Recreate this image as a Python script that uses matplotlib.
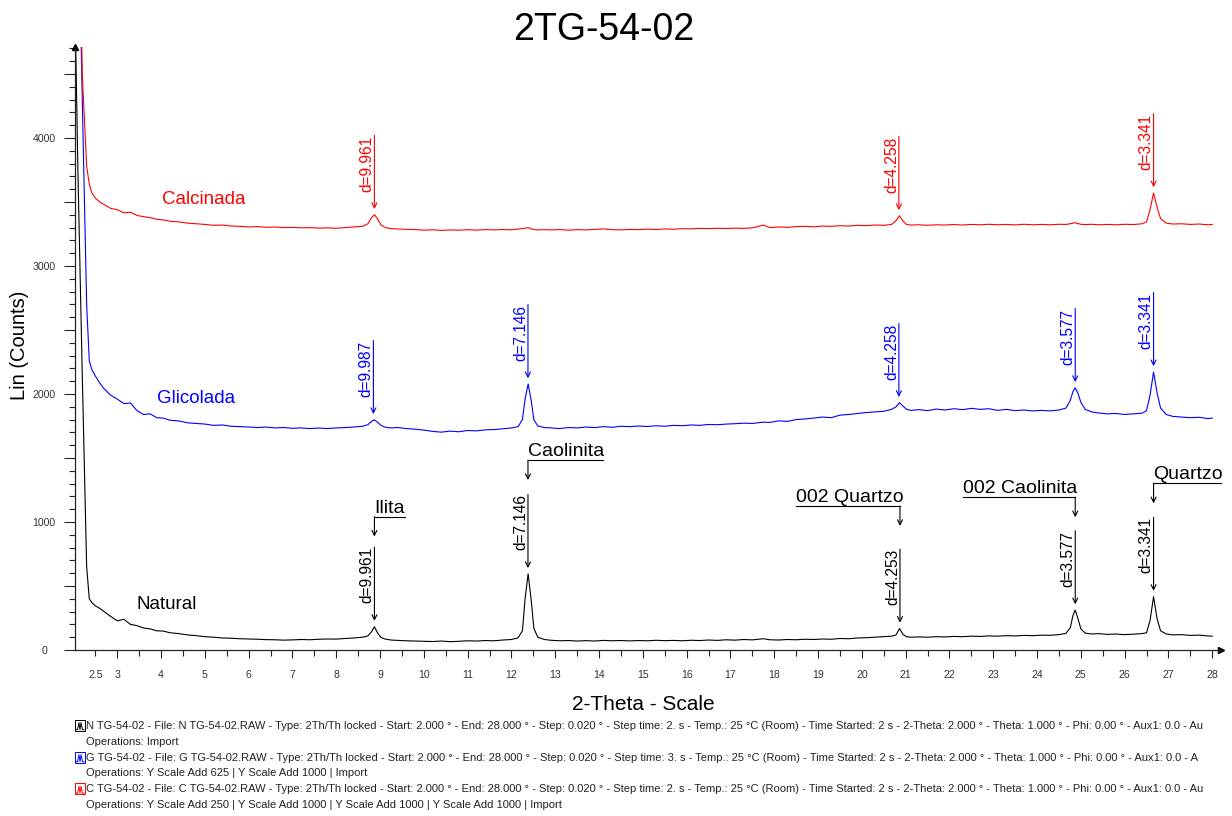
import numpy as np
import matplotlib
matplotlib.use("Agg")
import matplotlib.pyplot as plt
from matplotlib.patches import Rectangle
from matplotlib.lines import Line2D

plt.rcParams['font.family'] = ['Liberation Sans', 'DejaVu Sans']

W, H = 1232, 816
WAVELENGTH = 1.5406  # Cu K-alpha, used to place the d-spacing markers

# ---- diffractogram data (counts as displayed, offsets already applied) ----
two_theta = [
    2.00, 2.10, 2.20, 2.30, 2.36, 2.42, 2.50, 2.60, 2.70, 2.85,
    3.00, 3.15, 3.30, 3.45, 3.60, 3.75, 3.90, 4.05, 4.20, 4.40,
    4.60, 4.80, 5.00, 5.20, 5.40, 5.60, 5.80, 6.00, 6.20, 6.40,
    6.60, 6.80, 7.00, 7.20, 7.40, 7.60, 7.80, 8.00, 8.20, 8.40,
    8.60, 8.72, 8.80, 8.87, 8.94, 9.02, 9.12, 9.25, 9.40, 9.60,
    9.80, 10.00, 10.20, 10.40, 10.60, 10.80, 11.00, 11.20, 11.40, 11.60,
    11.80, 12.00, 12.15, 12.25, 12.31, 12.38, 12.45, 12.51, 12.60, 12.75,
    12.90, 13.10, 13.30, 13.50, 13.70, 13.90, 14.10, 14.30, 14.50, 14.70,
    14.90, 15.10, 15.30, 15.50, 15.70, 15.90, 16.10, 16.30, 16.50, 16.70,
    16.90, 17.10, 17.30, 17.50, 17.75, 17.90, 18.10, 18.30, 18.50, 18.70,
    18.90, 19.10, 19.30, 19.50, 19.70, 19.90, 20.10, 20.30, 20.50, 20.68,
    20.78, 20.86, 20.94, 21.02, 21.12, 21.30, 21.50, 21.70, 21.90, 22.10,
    22.30, 22.50, 22.70, 22.90, 23.10, 23.30, 23.50, 23.70, 23.90, 24.10,
    24.30, 24.50, 24.66, 24.76, 24.82, 24.87, 24.93, 25.00, 25.10, 25.25,
    25.40, 25.60, 25.80, 26.00, 26.20, 26.40, 26.50, 26.58, 26.66, 26.74,
    26.82, 26.95, 27.10, 27.30, 27.50, 27.70, 27.90, 28.00,
]

natural = [
    5700, 3750, 2150, 650, 400, 370, 345, 325, 300, 262,
    228, 240, 200, 190, 172, 165, 150, 148, 135, 128,
    118, 112, 104, 100, 94, 92, 88, 86, 84, 81,
    80, 77, 79, 82, 80, 84, 86, 85, 90, 94,
    100, 110, 140, 182, 135, 98, 85, 78, 75, 72,
    70, 68, 66, 70, 65, 68, 72, 70, 74, 72,
    78, 82, 95, 150, 400, 595, 390, 170, 100, 82,
    76, 72, 74, 70, 73, 70, 75, 72, 74, 71,
    74, 72, 76, 73, 75, 72, 76, 74, 78, 75,
    80, 77, 82, 79, 88, 80, 78, 82, 80, 84,
    82, 86, 84, 90, 88, 94, 96, 100, 104, 108,
    118, 168, 122, 104, 100, 102, 100, 104, 102, 106,
    104, 108, 106, 110, 108, 112, 110, 114, 112, 116,
    115, 120, 130, 175, 270, 312, 250, 165, 132, 125,
    128, 122, 125, 120, 124, 128, 135, 230, 417, 245,
    150, 125, 118, 120, 114, 116, 110, 108,
]

glicolada = [
    7500, 6000, 4300, 2700, 2260, 2190, 2140, 2085, 2040, 1990,
    1960, 1925, 1930, 1870, 1840, 1845, 1815, 1812, 1795, 1790,
    1775, 1770, 1765, 1755, 1758, 1748, 1745, 1742, 1738, 1742,
    1735, 1738, 1732, 1735, 1730, 1734, 1730, 1735, 1738, 1742,
    1748, 1760, 1785, 1798, 1780, 1755, 1740, 1735, 1738, 1730,
    1725, 1718, 1708, 1702, 1710, 1705, 1715, 1712, 1720, 1722,
    1728, 1735, 1745, 1800, 1960, 2078, 1950, 1800, 1750, 1738,
    1735, 1730, 1738, 1735, 1742, 1738, 1745, 1740, 1748, 1745,
    1750, 1746, 1752, 1748, 1755, 1752, 1758, 1755, 1762, 1760,
    1765, 1768, 1772, 1770, 1780, 1778, 1790, 1786, 1800, 1805,
    1812, 1820, 1815, 1835, 1840, 1848, 1855, 1860, 1865, 1880,
    1900, 1932, 1905, 1880, 1872, 1878, 1870, 1882, 1875, 1885,
    1878, 1888, 1880, 1885, 1872, 1880, 1870, 1875, 1868, 1872,
    1868, 1875, 1890, 1950, 2020, 2048, 2010, 1935, 1880, 1860,
    1852, 1845, 1848, 1840, 1845, 1850, 1870, 1990, 2172, 2010,
    1890, 1840, 1825, 1820, 1815, 1818, 1808, 1812,
]

calcinada = [
    8500, 6500, 4500, 3780, 3640, 3570, 3530, 3500, 3480, 3450,
    3440, 3415, 3420, 3395, 3385, 3378, 3365, 3360, 3350, 3345,
    3335, 3330, 3325, 3318, 3320, 3312, 3310, 3305, 3308, 3302,
    3305, 3300, 3302, 3298, 3300, 3296, 3298, 3295, 3300, 3305,
    3310, 3330, 3375, 3400, 3370, 3320, 3300, 3292, 3290, 3286,
    3285, 3280, 3283, 3278, 3282, 3280, 3284, 3280, 3285, 3282,
    3285, 3283, 3288, 3292, 3296, 3300, 3290, 3285, 3282, 3284,
    3282, 3285, 3280, 3284, 3282, 3286, 3290, 3284, 3282, 3286,
    3284, 3288, 3285, 3290, 3287, 3292, 3290, 3294, 3292, 3295,
    3293, 3296, 3294, 3298, 3320, 3300, 3305, 3302, 3308, 3310,
    3306, 3312, 3310, 3315, 3312, 3318, 3315, 3320, 3318, 3325,
    3355, 3392, 3350, 3325, 3320, 3322, 3318, 3322, 3320, 3324,
    3320, 3325, 3322, 3326, 3322, 3325, 3321, 3326, 3322, 3325,
    3322, 3326, 3325, 3330, 3335, 3338, 3332, 3326, 3324, 3326,
    3322, 3325, 3322, 3326, 3324, 3330, 3345, 3440, 3570, 3460,
    3370, 3335, 3328, 3330, 3325, 3328, 3322, 3325,
]

# d-spacings picked on each scan
natural_d = [9.961, 7.146, 4.253, 3.577, 3.341]
glicolada_d = [9.987, 7.146, 4.258, 3.577, 3.341]
calcinada_d = [9.961, 4.258, 3.341]

# mineral identification (on the natural scan)
mineral_names = ['Ilita', 'Caolinita', '002 Quartzo', '002 Caolinita', 'Quartzo']
mineral_d = [9.961, 7.146, 4.253, 3.577, 3.341]
mineral_line_y = [1042, 1484, 1125, 1193, 1302]
mineral_line_end = [9.57, 14.09, 18.5, 22.3, 28.2]

series_names = ['Natural', 'Glicolada', 'Calcinada']
series_colors = ['black', '#0000ff', '#ff0000']
name_pos = [(3.43, 352), (3.91, 1961), (4.03, 3523)]

x_major = list(range(3, 29))
x_minor = [v + 0.5 for v in range(2, 28)]
y_major = list(range(0, 4501, 500))

legend_lines = [
    "N TG-54-02 - File: N TG-54-02.RAW - Type: 2Th/Th locked - Start: 2.000 ° - End: 28.000 ° - Step: 0.020 ° - Step time: 2. s - Temp.: 25 °C (Room) - Time Started: 2 s - 2-Theta: 2.000 ° - Theta: 1.000 ° - Phi: 0.00 ° - Aux1: 0.0 - Au",
    "Operations: Import",
    "G TG-54-02 - File: G TG-54-02.RAW - Type: 2Th/Th locked - Start: 2.000 ° - End: 28.000 ° - Step: 0.020 ° - Step time: 3. s - Temp.: 25 °C (Room) - Time Started: 2 s - 2-Theta: 2.000 ° - Theta: 1.000 ° - Phi: 0.00 ° - Aux1: 0.0 - A",
    "Operations: Y Scale Add 625 | Y Scale Add 1000 | Import",
    "C TG-54-02 - File: C TG-54-02.RAW - Type: 2Th/Th locked - Start: 2.000 ° - End: 28.000 ° - Step: 0.020 ° - Step time: 2. s - Temp.: 25 °C (Room) - Time Started: 2 s - 2-Theta: 2.000 ° - Theta: 1.000 ° - Phi: 0.00 ° - Aux1: 0.0 - Au",
    "Operations: Y Scale Add 250 | Y Scale Add 1000 | Y Scale Add 1000 | Y Scale Add 1000 | Import",
]


def bragg(d):
    return np.degrees(2 * np.arcsin(WAVELENGTH / (2 * d)))


tt = np.array(two_theta)
scans = [np.array(natural), np.array(glicolada), np.array(calcinada)]
picks = [natural_d, glicolada_d, calcinada_d]

fig = plt.figure(figsize=(W / 100, H / 100), dpi=100)
ax = fig.add_axes([75 / W, 166 / H, 1146 / W, 603 / H])

for y, c in zip(scans, series_colors):
    ax.plot(tt, y, color=c, lw=0.8)

ax.set_xlim(2.034, 28.2)
ax.set_ylim(0, 4711)

# d-spacing arrows
for y, c, ds in zip(scans, series_colors, picks):
    for d in ds:
        x = bragg(d)
        tip = y[np.abs(tt - x) < 0.1].max() + 45
        top = tip + 575
        ax.annotate('', xy=(x, tip), xytext=(x, top),
                    arrowprops=dict(arrowstyle='->', color=c, lw=0.8,
                                    shrinkA=0, shrinkB=0, mutation_scale=9))
        ax.annotate(f'd={d:.3f}', xy=(x, top), xytext=(0, 0),
                    textcoords='offset points', rotation=90, ha='right',
                    va='top', color=c, fontsize=11.2)

# mineral brackets
for name, d, yb, xe in zip(mineral_names, mineral_d, mineral_line_y, mineral_line_end):
    x = bragg(d)
    x0, x1 = sorted([x, xe])
    ax.plot([x0, x1], [yb, yb], color='black', lw=0.8, clip_on=False)
    ax.annotate('', xy=(x, yb - 156), xytext=(x, yb),
                arrowprops=dict(arrowstyle='->', color='black', lw=0.8,
                                shrinkA=0, shrinkB=0, mutation_scale=9))
    ax.text(x0, yb, name, ha='left', va='bottom', fontsize=14,
            clip_on=False)

for name, c, (xn, yn) in zip(series_names, series_colors, name_pos):
    ax.text(xn, yn, name, color=c, fontsize=13.5, va='center')

# axes styling
for s in ['top', 'right']:
    ax.spines[s].set_visible(False)
for s in ['left', 'bottom']:
    ax.spines[s].set_color('#222222')
    ax.spines[s].set_linewidth(0.9)

ax.set_xticks(x_major, [str(v) for v in x_major])
ax.set_xticks(x_minor, ['2.5' if v == 2.5 else '' for v in x_minor], minor=True)
ax.set_yticks(y_major, [str(v) if v % 1000 == 0 else '' for v in y_major])
ax.set_yticks(range(0, 4701, 100), minor=True)
for lab in ax.get_yticklabels():
    lab.set_horizontalalignment('center')

ax.tick_params(axis='x', which='major', length=6.1, width=0.8, pad=8.6,
               labelsize=7.6, colors='#222222', labelcolor='#333333')
ax.tick_params(axis='x', which='minor', length=4.3, width=0.8, pad=10.4,
               labelsize=7.6, colors='#222222', labelcolor='#333333')
ax.tick_params(axis='y', which='major', length=7.9, width=0.8, pad=14.4,
               labelsize=7.6, colors='#222222', labelcolor='#333333')
ax.tick_params(axis='y', which='minor', length=4.3, width=0.8,
               colors='#222222')

# arrow heads at axis ends
ax.plot(0, 1, '^', color='black', ms=4.5, transform=ax.transAxes, clip_on=False)
ax.plot(1, 0, '>', color='black', ms=4.5, transform=ax.transAxes, clip_on=False)

fig.text(604 / W, 1 - 40 / H, '2TG-54-02', fontsize=27, ha='center', va='baseline')
fig.text(643 / W, 1 - 710 / H, '2-Theta - Scale', fontsize=15, ha='center', va='baseline')
fig.text(20 / W, 1 - 345 / H, 'Lin (Counts)', fontsize=14.5, rotation=90,
         ha='center', va='center')

# scan info block with small scan icons
row_y = [725.7, 742, 757.7, 773.3, 789.3, 805]
icon_colors = ['black', None, '#0000ff', None, '#ff0000', None]
for txt, yy, ic in zip(legend_lines, row_y, icon_colors):
    fig.text(86 / W, 1 - yy / H, txt, fontsize=8.0, color='#222222',
             ha='left', va='center')
    if ic:
        fig.add_artist(Rectangle((75 / W, 1 - (yy + 5) / H), 10 / W, 11 / H,
                                 transform=fig.transFigure, fill=False,
                                 ec=ic, lw=0.7))
        gx = [76, 77.5, 79, 80, 81, 82.5, 84]
        gy = [4, 4, -3, 4, -3, 4, 4]
        fig.add_artist(Line2D([v / W for v in gx], [1 - (yy + g) / H for g in gy],
                              transform=fig.transFigure, color=ic, lw=0.7))

fig.savefig('out.png', dpi=100)
